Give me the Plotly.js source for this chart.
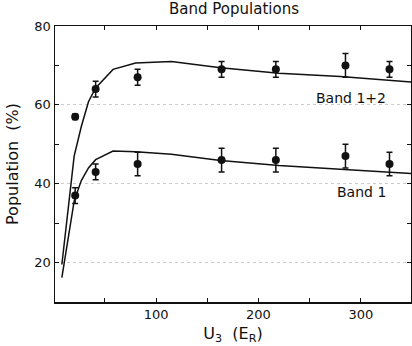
<!DOCTYPE html>
<html>
<head>
<meta charset="utf-8">
<script src="https://cdn.plot.ly/plotly-3.0.1.min.js"></script>
<style>
  html, body { margin: 0; padding: 0; background: #fff; }
  #viz { width: 412px; height: 346px; }
</style>
</head>
<body>
<div id="viz"></div>
<script>
// measured points (U3 in units of E_R, population in %)
var measU = [21, 41, 82, 164, 217, 285, 328];
var band12Meas = [57, 64, 67, 69, 69, 70, 69];
var band12Err = [0.7, 2, 2, 2, 2, 3, 2];
var band1Meas = [37, 43, 45, 46, 46, 47, 45];
var band1Err = [2, 2, 3, 3, 3, 3, 3];

// theory curves
var theoryU = [8, 20, 27, 34, 41, 58, 80, 115, 163, 220, 280, 350];
var band12Theory = [19.5, 47, 54.5, 60.8, 64.3, 69, 70.6, 71, 69.4, 68, 67.2, 65.8];
var band1Theory = [16.2, 35.6, 40.8, 44, 46.1, 48.3, 48.1, 47.5, 45.9, 44.6, 43.7, 42.6];

var curveLabels = ['Band 1+2', 'Band 1'];
var labelU = [327, 327];
var labelPop = [61.7, 38];

var ink = '#111';

function theory(y) {
  return {
    x: theoryU, y: y, type: 'scatter', mode: 'lines',
    line: { color: ink, width: 1.5 },
    hoverinfo: 'skip'
  };
}

function measured(y, err) {
  return {
    x: measU, y: y, type: 'scatter', mode: 'markers',
    marker: { color: ink, size: 8 },
    error_y: { type: 'data', array: err, visible: true, color: ink, thickness: 1.5, width: 3 }
  };
}

var data = [
  theory(band12Theory),
  theory(band1Theory),
  measured(band12Meas, band12Err),
  measured(band1Meas, band1Err)
];

var annotations = curveLabels.map(function (t, i) {
  return {
    x: labelU[i], y: labelPop[i], xref: 'x', yref: 'y',
    text: t, showarrow: false, xanchor: 'right', yanchor: 'middle',
    font: { size: 14, color: ink }
  };
});

var layout = {
  width: 412,
  height: 346,
  showlegend: false,
  paper_bgcolor: '#fff',
  plot_bgcolor: '#fff',
  font: { family: 'DejaVu Sans, sans-serif', size: 13, color: ink },
  margin: { l: 55, r: 1, t: 26, b: 44 },
  title: { text: 'Band Populations', x: 0.568, xanchor: 'center', y: 0.99, yanchor: 'top', font: { size: 15 } },
  xaxis: {
    range: [1.3, 349],
    tickvals: [100, 200, 300],
    ticks: 'inside', ticklen: 4, tickcolor: ink,
    minor: { tickvals: [50, 150, 250], ticks: 'inside', ticklen: 4, tickcolor: ink, showgrid: false },
    showgrid: false, zeroline: false,
    showline: true, mirror: 'ticks', linecolor: ink, linewidth: 1.5,
    title: { text: 'U<sub>3</sub>  (E<sub>R</sub>)', standoff: 6 }
  },
  yaxis: {
    range: [10, 80],
    tickvals: [20, 40, 60, 80],
    ticks: 'inside', ticklen: 4, tickcolor: ink,
    minor: { tickvals: [30, 50, 70], ticks: 'inside', ticklen: 4, tickcolor: ink, showgrid: false },
    showgrid: true, gridcolor: '#ccc', griddash: 'dot', gridwidth: 1,
    zeroline: false,
    showline: true, mirror: 'ticks', linecolor: ink, linewidth: 1.5,
    title: { text: 'Population  (%)', standoff: 12 }
  },
  annotations: annotations
};

Plotly.newPlot('viz', data, layout, { staticPlot: true });
</script>
</body>
</html>
